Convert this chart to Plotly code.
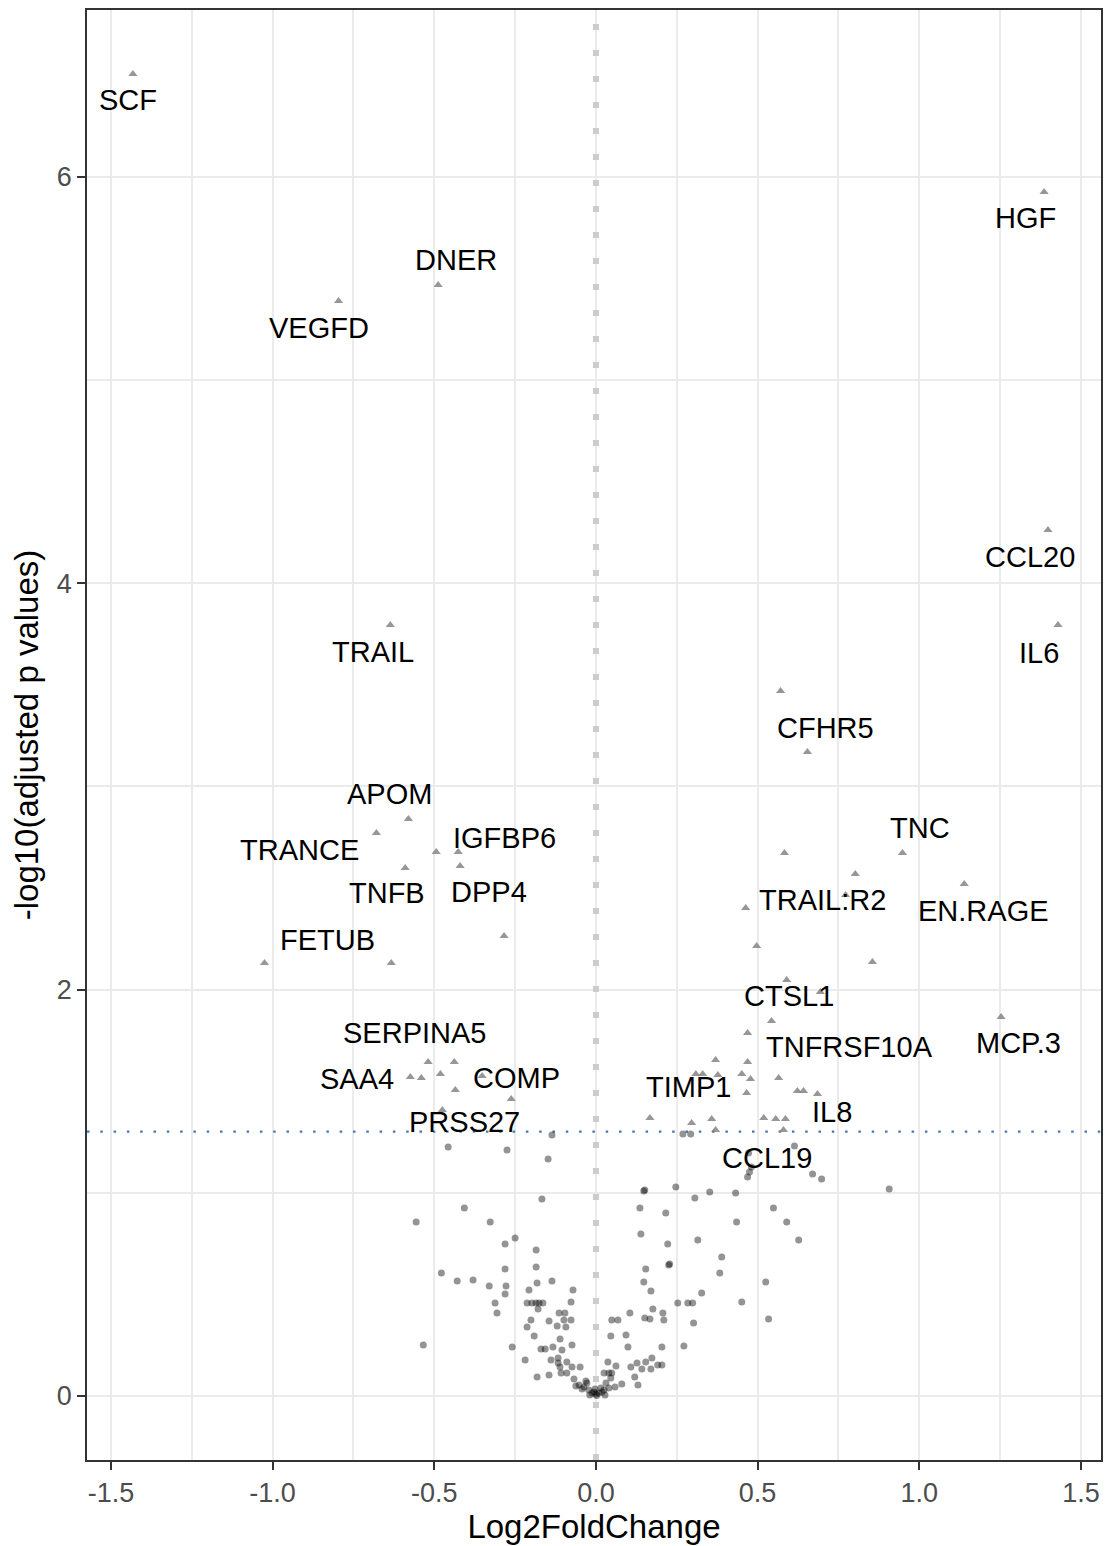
import plotly.graph_objects as go

# Significant proteins (triangles): log2 fold change and -log10(adjusted p)
sig_x = [-1.432, -0.796, -0.488, -0.636, -0.580, -0.679, -0.494, -0.426, -0.590, -0.420,
         -0.284, -1.025, -0.633, -0.519, -0.438, -0.574, -0.540, -0.481, -0.435, -0.352,
         -0.262, -0.475,
         1.386, 1.398, 1.429, 0.571, 0.654, 0.583, 0.948, 0.802, 1.139, 0.772,
         0.463, 0.497, 0.855, 0.590, 0.694, 1.253, 0.543, 0.469, 0.370, 0.469,
         0.309, 0.330, 0.377, 0.451, 0.478, 0.565, 0.466, 0.623, 0.642, 0.685,
         0.167, 0.296, 0.358, 0.519, 0.556, 0.586, 0.370, 0.580]
sig_y = [6.506, 5.389, 5.468, 3.794, 2.840, 2.771, 2.677, 2.677, 2.598, 2.608,
         2.264, 2.131, 2.131, 1.644, 1.644, 1.570, 1.565, 1.585, 1.506, 1.575,
         1.462, 1.407,
         5.925, 4.262, 3.794, 3.469, 3.169, 2.672, 2.672, 2.569, 2.520, 2.466,
         2.402, 2.215, 2.136, 2.047, 1.988, 1.865, 1.845, 1.786, 1.654, 1.644,
         1.585, 1.585, 1.580, 1.585, 1.560, 1.565, 1.491, 1.501, 1.501, 1.486,
         1.368, 1.343, 1.363, 1.368, 1.363, 1.363, 1.309, 1.309]

# Non-significant proteins (circles)
ns_x = [-0.457, -0.275, -0.136, -0.148, -0.167, -0.407, -0.556, -0.327, -0.250, -0.281,
        -0.185, -0.281, -0.185, -0.478, -0.429, -0.380, -0.330, -0.278, -0.281, -0.182,
        -0.136, -0.207, -0.071, -0.077, -0.213, -0.198, -0.185, -0.176, -0.164, -0.179,
        -0.312, -0.306, -0.114, -0.096, -0.201, -0.145, -0.099, -0.077, -0.213, -0.120,
        -0.093, -0.191, -0.111, -0.534, -0.259, -0.170, -0.157, -0.133, -0.105, -0.074,
        -0.219, -0.139, -0.117, -0.117, -0.090, -0.111, -0.074, -0.049, -0.108, -0.090,
        -0.182, -0.145, -0.068, -0.031, -0.052, -0.037, -0.022, -0.043, -0.028, -0.012,
        0.000, 0.009, 0.019, -0.006, -0.019, 0.002, -0.062, 0.025, 0.031, 0.037,
        0.046, 0.049, 0.068, 0.059, 0.080, 0.025, 0.040, 0.049, 0.062, 0.046,
        0.093, 0.099, 0.105, 0.120, 0.130, 0.108, 0.127, 0.142, 0.154, 0.173,
        0.191, 0.204, 0.204, 0.154, 0.228, 0.148, 0.170, 0.176, 0.207, 0.210,
        0.151, 0.167, 0.253, 0.284, 0.299, 0.272, 0.302, 0.327, 0.451, 0.525,
        0.534, 0.383, 0.389, 0.225, 0.222, 0.139, 0.315, 0.435, 0.136, 0.216,
        0.306, 0.148, 0.247, 0.352, 0.432, 0.549, 0.590, 0.627, 0.670, 0.698,
        0.907, 0.469, 0.475, 0.481, 0.472, 0.614, 0.269, 0.293, 0.170, 0.028,
        0.040, 0.015, -0.003, 0.151]
ns_y = [1.225, 1.211, 1.284, 1.166, 0.969, 0.925, 0.856, 0.856, 0.778, 0.748,
        0.719, 0.625, 0.635, 0.605, 0.566, 0.571, 0.541, 0.541, 0.502, 0.556,
        0.566, 0.522, 0.522, 0.463, 0.458, 0.458, 0.458, 0.458, 0.458, 0.428,
        0.458, 0.408, 0.408, 0.408, 0.374, 0.369, 0.374, 0.374, 0.340, 0.344,
        0.340, 0.295, 0.281, 0.251, 0.241, 0.231, 0.231, 0.241, 0.226, 0.251,
        0.177, 0.177, 0.187, 0.162, 0.167, 0.143, 0.143, 0.143, 0.113, 0.113,
        0.094, 0.103, 0.084, 0.074, 0.054, 0.044, 0.030, 0.034, 0.064, 0.015,
        0.010, 0.015, 0.020, 0.020, 0.005, 0.002, 0.049, 0.030, 0.064, 0.167,
        0.295, 0.374, 0.374, 0.044, 0.059, 0.113, 0.113, 0.113, 0.148, 0.089,
        0.300, 0.241, 0.408, 0.094, 0.054, 0.143, 0.162, 0.133, 0.167, 0.187,
        0.153, 0.153, 0.241, 0.625, 0.650, 0.561, 0.517, 0.428, 0.408, 0.374,
        0.384, 0.379, 0.458, 0.458, 0.458, 0.246, 0.359, 0.507, 0.463, 0.561,
        0.379, 0.605, 0.684, 0.645, 0.748, 0.797, 0.768, 0.856, 0.925, 0.901,
        0.974, 1.009, 1.029, 1.004, 0.999, 0.925, 0.856, 0.768, 1.093, 1.068,
        1.019, 1.078, 1.102, 1.127, 1.196, 1.230, 1.289, 1.289, 0.133, 0.005,
        0.039, 0.039, 0.034, 1.014]

# Gene labels and their (repelled) text positions
label_names = ["SCF", "HGF", "DNER", "VEGFD", "CCL20", "IL6", "TRAIL", "CFHR5", "APOM", "TNC",
               "TRANCE", "IGFBP6", "TNFB", "DPP4", "TRAIL:R2", "EN.RAGE", "FETUB", "CTSL1",
               "SERPINA5", "TNFRSF10A", "MCP.3", "SAA4", "COMP", "TIMP1", "PRSS27", "IL8", "CCL19"]
label_x = [-1.448, 1.330, -0.432, -0.855, 1.343, 1.370, -0.691, 0.710, -0.639, 1.003,
           -0.917, -0.284, -0.645, -0.330, 0.701, 1.198, -0.830, 0.596,
           -0.562, 0.784, 1.306, -0.738, -0.247, 0.287, -0.407, 0.731, 0.528]
label_y = [6.378, 5.797, 5.591, 5.256, 4.129, 3.657, 3.661, 3.287, 2.963, 2.795,
           2.687, 2.746, 2.475, 2.480, 2.441, 2.387, 2.244, 1.969,
           1.786, 1.718, 1.737, 1.560, 1.565, 1.521, 1.348, 1.398, 1.171]

x_ticks = [-1.5, -1.0, -0.5, 0.0, 0.5, 1.0, 1.5]
x_ticktext = ["-1.5", "-1.0", "-0.5", "0.0", "0.5", "1.0", "1.5"]
x_minor = [-1.25, -0.75, -0.25, 0.25, 0.75, 1.25]
y_ticks = [0, 2, 4, 6]
y_minor = [1, 3, 5]
x_range = [-1.574, 1.562]
y_range = [-0.315, 6.821]
fc_zero_line = 0.0
p_cutoff_line = 1.30103  # -log10(0.05)

FONT = "Liberation Sans, Arial, sans-serif"

fig = go.Figure()
# vertical reference line at log2FC = 0 (under the points, above the grid)
fig.add_trace(go.Scatter(x=[fc_zero_line, fc_zero_line], y=y_range, mode="lines",
                         line=dict(color="#CCCCCC", width=6, dash="6px,20px"),
                         showlegend=False, hoverinfo="skip"))
fig.add_trace(go.Scatter(x=x_range, y=[p_cutoff_line, p_cutoff_line], mode="lines",
                         line=dict(color="#4A78B0", width=2.4, dash="2.5px,10.8px"),
                         showlegend=False, hoverinfo="skip"))
fig.add_trace(go.Scatter(x=ns_x, y=ns_y, mode="markers",
                         marker=dict(symbol="circle", size=7, color="rgba(0,0,0,0.42)",
                                     line=dict(width=0)),
                         showlegend=False, hoverinfo="skip"))
fig.add_trace(go.Scatter(x=sig_x, y=sig_y, mode="markers",
                         marker=dict(symbol="triangle-up", size=8, color="rgba(125,125,125,0.8)",
                                     line=dict(width=0)),
                         showlegend=False, hoverinfo="skip"))

for name, lx, ly in zip(label_names, label_x, label_y):
    fig.add_annotation(x=lx, y=ly, text=name, showarrow=False,
                       font=dict(family=FONT, size=29, color="black"),
                       xanchor="center", yanchor="middle")

axis_common = dict(showline=True, mirror=True, linecolor="#333333", linewidth=1.5,
                   ticks="outside", ticklen=8, tickwidth=1.5, tickcolor="#333333",
                   showgrid=True, gridcolor="#EBEBEB", gridwidth=2, zeroline=False,
                   tickfont=dict(family=FONT, size=27, color="#4D4D4D"))

fig.update_layout(
    width=1110, height=1546,
    margin=dict(l=87, r=7, t=10, b=86),
    paper_bgcolor="white", plot_bgcolor="white",
    xaxis=dict(range=x_range, tickvals=x_ticks, ticktext=x_ticktext,
               minor=dict(tickvals=x_minor, showgrid=True, gridcolor="#EBEBEB", gridwidth=1.5, ticks=""),
               title=dict(text="Log2FoldChange", font=dict(family=FONT, size=33, color="black"), standoff=1),
               **axis_common),
    yaxis=dict(range=y_range, tickvals=y_ticks,
               minor=dict(tickvals=y_minor, showgrid=True, gridcolor="#EBEBEB", gridwidth=1.5, ticks=""),
               title=dict(text="-log10(adjusted p values)", font=dict(family=FONT, size=33, color="black"), standoff=8),
               **axis_common),
)

fig.write_html("out.html", config={"displayModeBar": False},
               post_script="document.body.style.margin='0';document.body.style.overflow='hidden';")
